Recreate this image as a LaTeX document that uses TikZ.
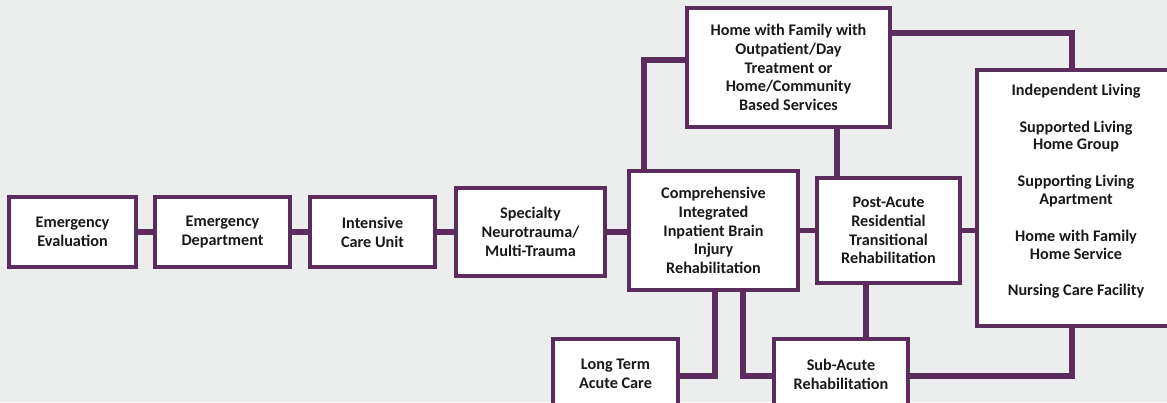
\documentclass[tikz,border=0pt]{standalone}
\usepackage{fontspec}
\setmainfont{Carlito}
\definecolor{plum}{RGB}{92,44,94}
\definecolor{canvas}{RGB}{236,237,237}
\definecolor{ink}{RGB}{25,25,25}

\begin{document}
\begin{tikzpicture}[x=1pt,y=-1pt,
  box/.style={draw=plum,line width=3.2pt,fill=white,align=center,text=ink,inner sep=0pt,
    font=\bfseries\fontsize{16.2}{18.8}\selectfont},
  link/.style={draw=plum,line width=5.5pt}]
  \clip (0,0) rectangle (1167,402);
  \fill[canvas] (0,0) rectangle (1167,402);
  % acute care chain
  \foreach \nm/\x/\w/\h/\txt in {ee/72.5/127/70/{Emergency\\Evaluation},%
    ed/222.5/135/70/{Emergency\\Department},%
    icu/372.5/125/70/{Intensive\\Care Unit},%
    spec/530.5/149/88/{Specialty\\Neurotrauma/\\Multi-Trauma}} {
    \node[box,minimum width=\w pt,minimum height=\h pt] (\nm) at (\x,232) {\txt};
  }
  \node[box,minimum width=169pt,minimum height=119pt] (comp) at (713.5,230.5)
    {Comprehensive\\Integrated\\Inpatient Brain\\Injury\\Rehabilitation};
  \node[box,minimum width=143pt,minimum height=105pt] (post) at (888.5,230.5)
    {Post-Acute\\Residential\\Transitional\\Rehabilitation};
  \node[box,minimum width=203pt,minimum height=119pt] (home) at (788.5,67.5)
    {Home with Family with\\Outpatient/Day\\Treatment or\\Home/Community\\Based Services};
  \node[box,minimum width=198pt,minimum height=256pt,
    label={[anchor=north,yshift=-12pt,align=center,text=ink,font=\bfseries\fontsize{16.2}{17.8}\selectfont]north:
      Independent Living\\[19pt]Supported Living\\Home Group\\[19pt]Supporting Living\\Apartment\\[19pt]Home with Family\\Home Service\\[19pt]Nursing Care Facility}]
    (living) at (1076,198) {};
  % lower branch
  \node[box,minimum width=125pt,minimum height=70pt] (ltac) at (615.5,374) {Long Term\\Acute Care};
  \node[box,minimum width=134pt,minimum height=70pt] (sub) at (841,374) {Sub-Acute\\Rehabilitation};

  \foreach \a/\b in {ee/ed,ed/icu,icu/spec,spec/comp,comp/post,post/living}
    \draw[link] (\a.east) -- (\a.east -| \b.west);
  \draw[link] ([xshift=-69.5pt]comp.north) |- ([yshift=7.5pt]home.west);
  \draw[link] ([xshift=48.5pt]home.south) -- ([xshift=48.5pt]home.south |- post.north);
  \draw[link] ([yshift=34.5pt]home.east) -| ([xshift=-4pt]living.north);
  \draw[link] ([xshift=-4pt]living.south) |- ([yshift=-2pt]sub.east);
  \draw[link] ([xshift=-22.5pt]post.south) -- ([xshift=-22.5pt]post.south |- sub.north);
  \draw[link] ([xshift=1.5pt]comp.south) |- ([yshift=-2pt]ltac.east);
  \draw[link] ([xshift=29.5pt]comp.south) |- ([yshift=-2pt]sub.west);
\end{tikzpicture}
\end{document}
